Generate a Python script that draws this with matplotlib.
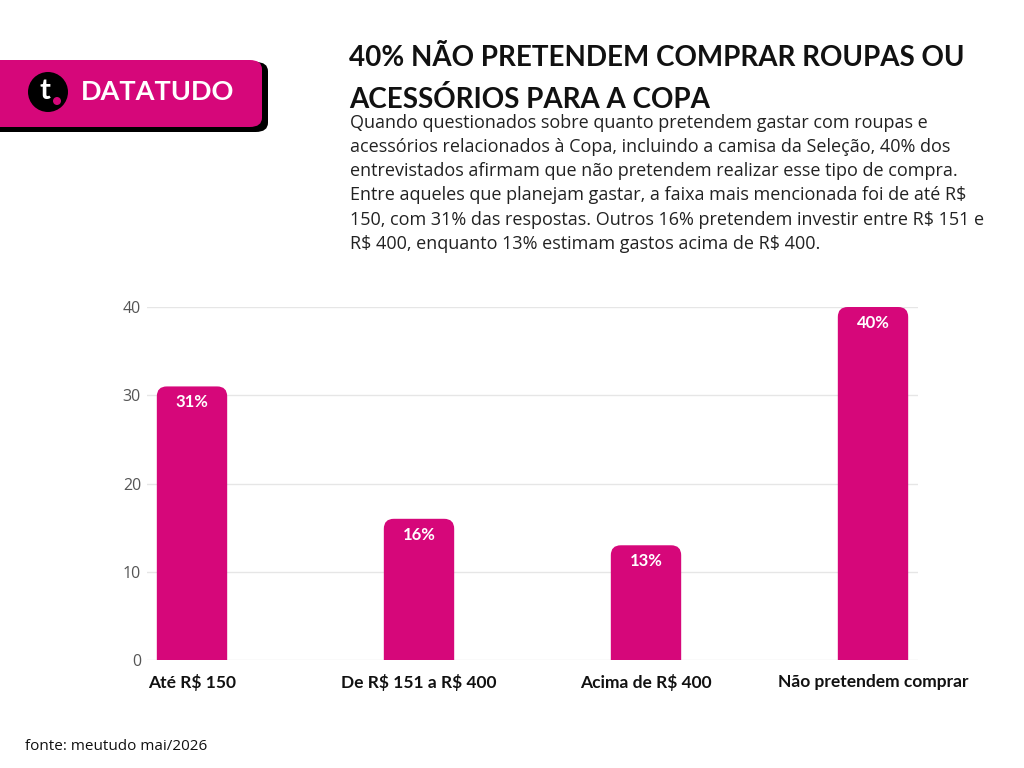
import matplotlib.pyplot as plt
from matplotlib.patches import FancyBboxPatch, Ellipse

categories = ['Até R$ 150', 'De R$ 151 a R$ 400', 'Acima de R$ 400', 'Não pretendem comprar']
values = [31, 16, 13, 40]
labels = ['31%', '16%', '13%', '40%']

title = '40% NÃO PRETENDEM COMPRAR ROUPAS OU\nACESSÓRIOS PARA A COPA'
subtitle = ('Quando questionados sobre quanto pretendem gastar com roupas e\n'
            'acessórios relacionados à Copa, incluindo a camisa da Seleção, 40% dos\n'
            'entrevistados afirmam que não pretendem realizar esse tipo de compra.\n'
            'Entre aqueles que planejam gastar, a faixa mais mencionada foi de até R$\n'
            '150, com 31% das respostas. Outros 16% pretendem investir entre R$ 151 e\n'
            'R$ 400, enquanto 13% estimam gastos acima de R$ 400.')
source = 'fonte: meutudo mai/2026'

pink = '#D6077A'
plt.rcParams['font.family'] = ['Open Sans', 'DejaVu Sans']
plt.rcParams['text.parse_math'] = False
bold_font = ['Lato', 'DejaVu Sans']

fig = plt.figure(figsize=(10.24, 7.68), dpi=100)
W, H = 1024, 768

# logo
fig.patches.append(FancyBboxPatch((-20 / W, 1 - 132 / H), 288 / W, 70 / H,
                                  boxstyle='round,pad=0,rounding_size=0.012',
                                  transform=fig.transFigure, fc='black', ec='none'))
fig.patches.append(FancyBboxPatch((-20 / W, 1 - 127 / H), 282 / W, 67 / H,
                                  boxstyle='round,pad=0,rounding_size=0.012',
                                  transform=fig.transFigure, fc=pink, ec='none'))
fig.patches.append(Ellipse((48 / W, 1 - 92 / H), 40 / W, 40 / H, transform=fig.transFigure,
                           fc='black', ec='none'))
fig.text(45 / W, 1 - 91 / H, 't', color='white', fontsize=21, fontweight='bold',
         family=bold_font, ha='center', va='center')
fig.patches.append(Ellipse((57 / W, 1 - 101 / H), 8 / W, 8 / H, transform=fig.transFigure,
                           fc=pink, ec='none'))
fig.text(81 / W, 1 - 92 / H, 'DATATUDO', color='white', fontsize=19.5, fontweight='bold',
         family=bold_font, ha='left', va='center')

fig.text(349 / W, 1 - 45 / H, title, fontsize=20, fontweight='bold', color='#111111',
         family=bold_font, ha='left', va='top', linespacing=1.68)
fig.text(350 / W, 1 - 114 / H, subtitle, fontsize=13, color='#222222',
         ha='left', va='top', linespacing=1.44)
fig.text(25 / W, 1 - 746 / H, source, fontsize=11, color='#111111', ha='left', va='center')

# chart
ax = fig.add_axes([146.6 / W, 108 / H, 771.8 / W, 353 / H])
x = list(range(len(categories)))
bw = 0.31
xscale = 227.0   # px per x unit
yscale = 353.0 / 40   # px per y unit
r = 10 / xscale
for xi, v, lab in zip(x, values, labels):
    ax.add_patch(FancyBboxPatch((xi - bw / 2, -3), bw, v + 3,
                                boxstyle=f'round,pad=0,rounding_size={r}',
                                mutation_aspect=xscale / yscale,
                                fc=pink, ec='none', zorder=3))
    ax.text(xi, v - 1.8, lab, color='white', fontsize=12, fontweight='bold',
            family=bold_font, ha='center', va='center', zorder=4)

ax.set_xlim(-0.2, 3.2)
ax.set_ylim(0, 40)
ax.set_yticks([0, 10, 20, 30, 40])
ax.set_xticks(x)
ax.set_xticklabels(categories, fontsize=12.5, fontweight='bold', color='#111111',
                   family=bold_font)
ax.tick_params(axis='y', length=0, labelsize=11.5, labelcolor='#555555', pad=4)
ax.tick_params(axis='x', length=0, pad=10)
ax.grid(axis='y', color='#e6e6e6', linewidth=1, zorder=0)
for s in ax.spines.values():
    s.set_visible(False)

fig.savefig('out.png', dpi=100)
